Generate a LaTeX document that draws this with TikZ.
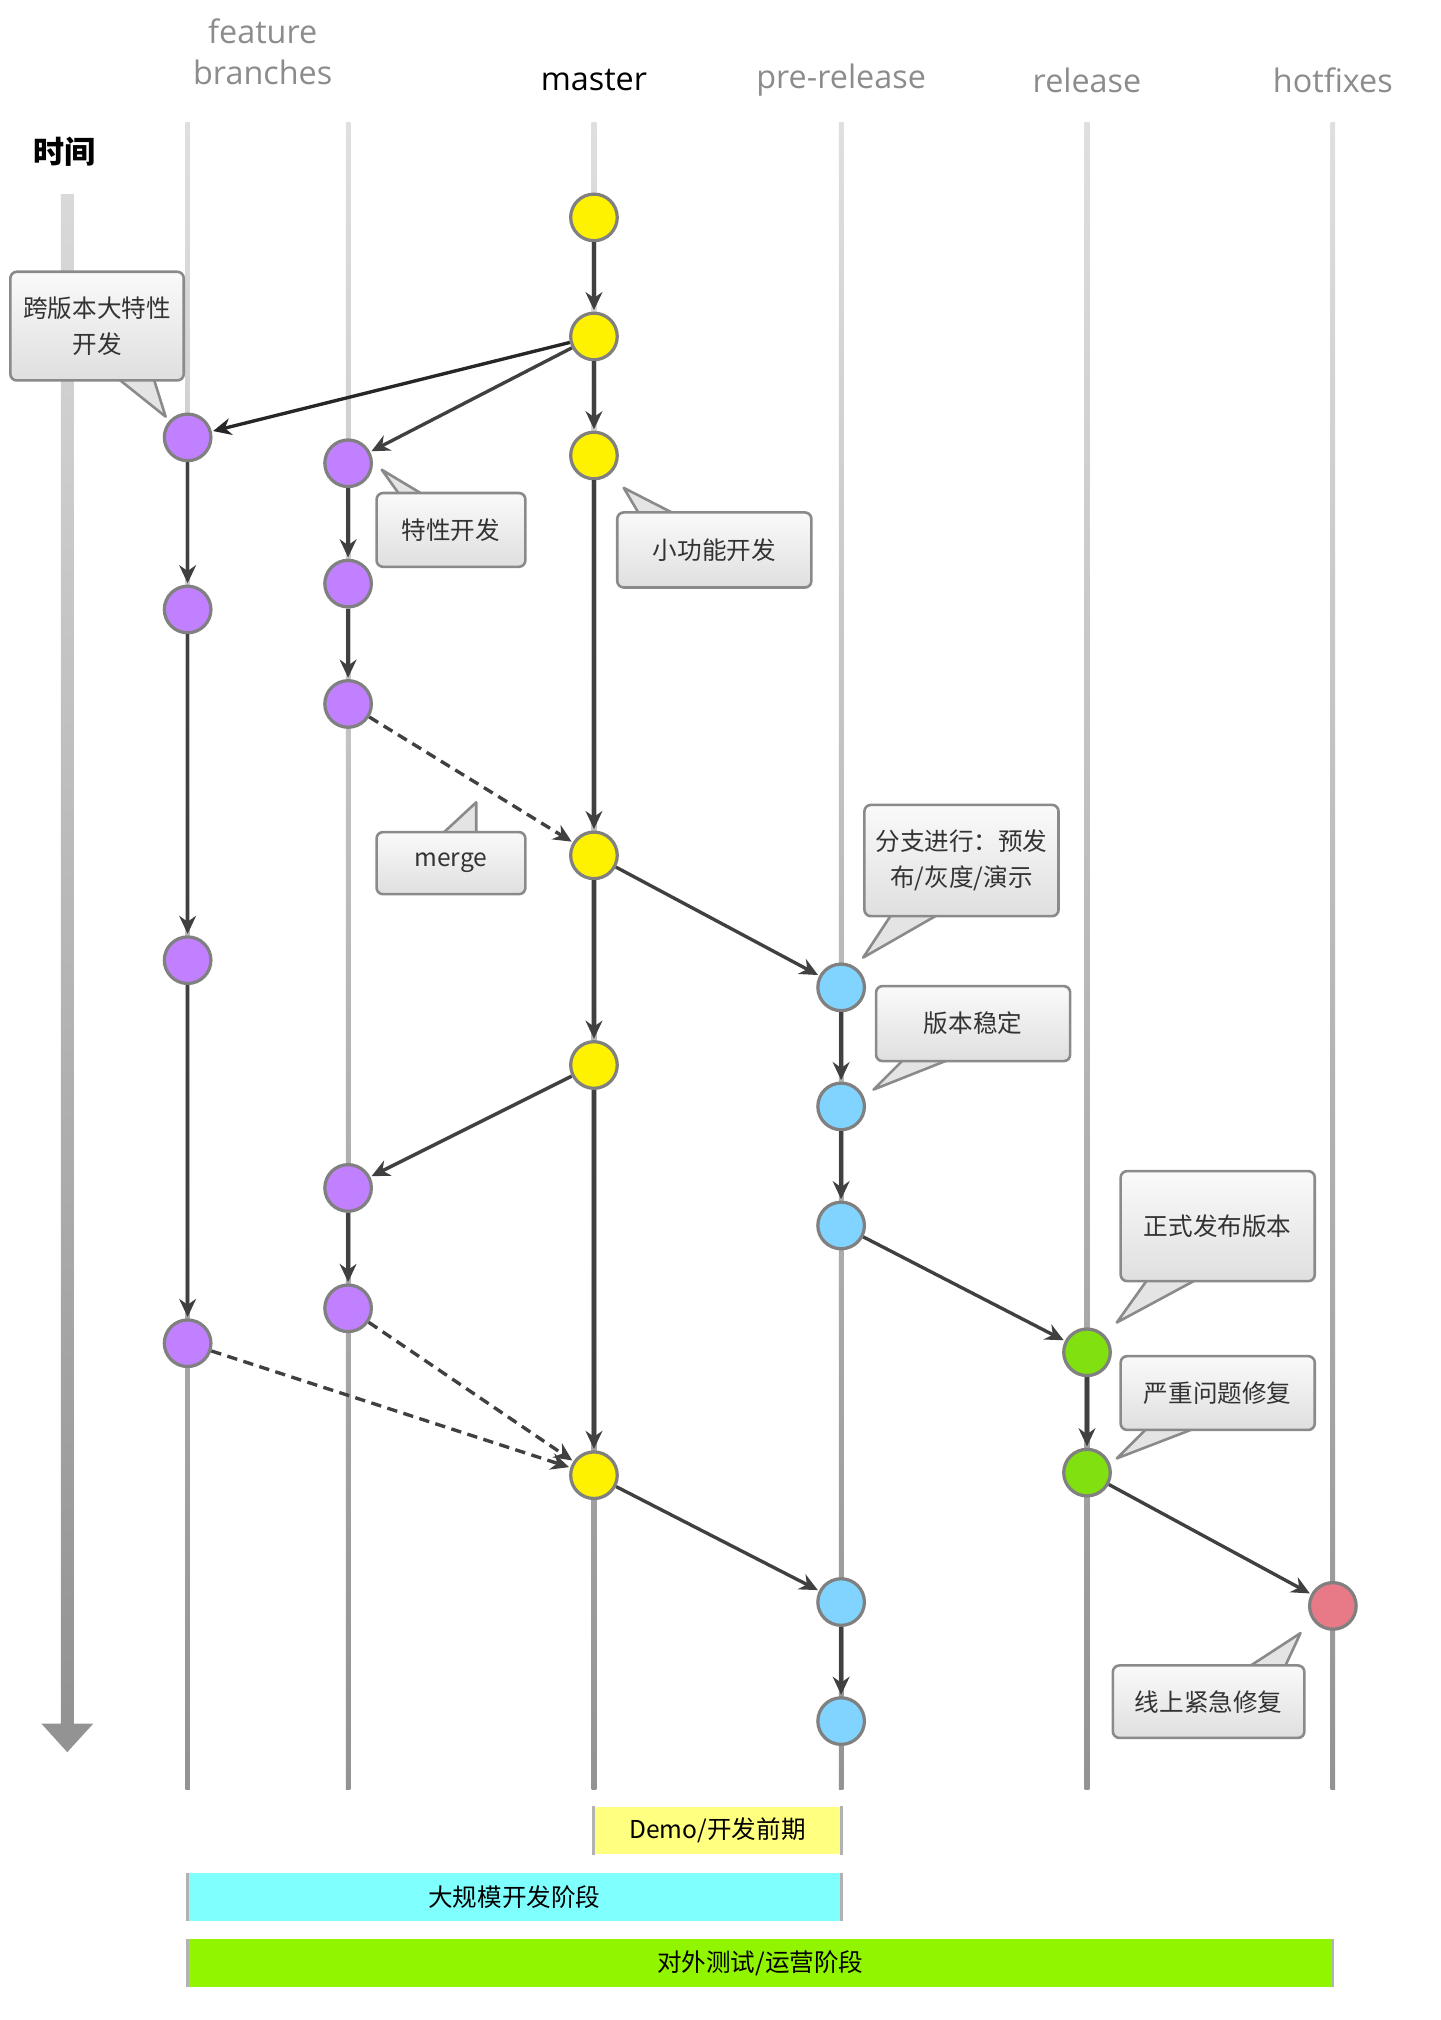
\documentclass[tikz,border=0pt]{standalone}
\usepackage{fontspec}
\setmainfont{Noto Sans CJK SC}
\newfontfamily\hdr{Open Sans}
\usetikzlibrary{arrows.meta}
\definecolor{cfill}{HTML}{E4E4E4}
\definecolor{cborder}{HTML}{8A8A8A}
\definecolor{cpurple}{HTML}{C080FF}
\definecolor{cblue}{HTML}{80D4FF}
\definecolor{cgreen}{HTML}{80E010}
\definecolor{cred}{HTML}{E87A88}
\tikzset{
 c/.style={circle,draw=gray!75!black!80,line width=2.5pt,minimum size=36pt,inner sep=0},
 ar/.style={line width=2.6pt,draw=black!75,-{Stealth[length=14pt,width=13pt]},shorten >=1pt},
 da/.style={ar,dashed,dash pattern=on 8pt off 5pt},
 co/.style={draw=cborder,top color=gray!4,bottom color=gray!25,line width=2pt,rounded corners=5pt,font=\fontsize{19}{28}\selectfont,text=black!80,align=center,inner sep=0},
 tri/.style={draw=cborder,fill=cfill,line width=2pt,line join=round},
 hd/.style={font=\hdr\fontsize{25}{36}\selectfont,text=gray!90},
 bar/.style={minimum height=37pt,inner sep=0,font=\fontsize{19}{24}\selectfont},
}
\begin{document}
\begin{tikzpicture}[x=1pt,y=-1pt]
\useasboundingbox (0,0) rectangle (1113,1561);
% lanes
\foreach \x in {145,269,459,650,840,1030}
 \shade[top color=gray!25,bottom color=gray!85] (\x-1.8,95) rectangle (\x+1.8,1383);
% time arrow
\shade[top color=gray!30,bottom color=gray!85] (47,150) rectangle (57,1332);
\fill[gray!85] (32,1332) -- (72,1332) -- (52,1354) -- cycle;
\node[font=\fontsize{24}{30}\selectfont\bfseries] (time) at (50,117) {时间};
% headers
\node[hd,align=center] (hf) at (203,40) {feature\\[-4pt]branches};
\node[hd,text=black] (hm) at (459,62) {master};
\node[hd] (hp) at (650,62) {pre-release};
\node[hd] (hr) at (840,62) {release};
\node[hd] (hh) at (1030,62) {hotfixes};
% commits
\node[c,fill=yellow] (m1) at (459,168) {};
\node[c,fill=yellow] (m2) at (459,260) {};
\node[c,fill=yellow] (m3) at (459,352) {};
\node[c,fill=yellow] (m4) at (459,661) {};
\node[c,fill=yellow] (m5) at (459,823) {};
\node[c,fill=yellow] (m6) at (459,1140) {};
\node[c,fill=cpurple] (a1) at (145,338) {};
\node[c,fill=cpurple] (a2) at (145,471) {};
\node[c,fill=cpurple] (a3) at (145,742) {};
\node[c,fill=cpurple] (a4) at (145,1038) {};
\node[c,fill=cpurple] (b1) at (269,358) {};
\node[c,fill=cpurple] (b2) at (269,451) {};
\node[c,fill=cpurple] (b3) at (269,544) {};
\node[c,fill=cpurple] (b4) at (269,918) {};
\node[c,fill=cpurple] (b5) at (269,1011) {};
\node[c,fill=cblue] (p1) at (650,763) {};
\node[c,fill=cblue] (p2) at (650,855) {};
\node[c,fill=cblue] (p3) at (650,947) {};
\node[c,fill=cblue] (p4) at (650,1238) {};
\node[c,fill=cblue] (p5) at (650,1330) {};
\node[c,fill=cgreen] (r1) at (840,1045) {};
\node[c,fill=cgreen] (r2) at (840,1138) {};
\node[c,fill=cred] (h1) at (1030,1241) {};
% edges
\foreach \u/\v in {m1/m2,m2/m3,m3/m4,m4/m5,m5/m6,a1/a2,a2/a3,a3/a4,b1/b2,b2/b3,b4/b5,p1/p2,p2/p3,p4/p5,r1/r2}
 \draw[ar] (\u) -- (\v);
\draw[ar,draw=black!85] (m2) -- (a1);
\draw[ar] (m2) -- (b1);
\draw[ar] (m4) -- (p1);
\draw[ar] (m5) -- (b4);
\draw[ar] (p3) -- (r1);
\draw[ar] (m6) -- (p4);
\draw[ar] (r2) -- (h1);
\draw[da] (b3) -- (m4);
\draw[da] (b5) -- (m6);
\draw[da] (a4) -- (m6);
% callouts
\draw[tri] (88,290) -- (128,322) -- (118,290) -- cycle;
\node[co,minimum width=134pt,minimum height=84pt] (k1) at (75,252) {跨版本大特性\\开发};
\draw[tri] (310,384) -- (295,363) -- (330,384) -- cycle;
\node[co,minimum width=115pt,minimum height=57pt] (k2) at (348.5,409.5) {特性开发};
\draw[tri] (495,399) -- (482,377) -- (525,399) -- cycle;
\node[co,minimum width=150pt,minimum height=58pt] (k3) at (552,425) {小功能开发};
\draw[tri] (340,646) -- (368,620) -- (368,646) -- cycle;
\node[co,minimum width=115pt,minimum height=48pt] (k4) at (348.5,667) {merge};
\draw[tri] (690,705) -- (667,740) -- (728,705) -- cycle;
\node[co,minimum width=150pt,minimum height=86pt] (k5) at (743,665) {分支进行：预发\\布/灰度/演示};
\draw[tri] (700,817) -- (675,842) -- (738,817) -- cycle;
\node[co,minimum width=150pt,minimum height=58pt] (k6) at (752,791) {版本稳定};
\draw[tri] (888,987) -- (863,1022) -- (928,987) -- cycle;
\node[co,minimum width=150pt,minimum height=85pt] (k7) at (941,947.5) {正式发布版本};
\draw[tri] (888,1102) -- (863,1127) -- (928,1102) -- cycle;
\node[co,minimum width=150pt,minimum height=57pt] (k8) at (941,1076.5) {严重问题修复};
\draw[tri] (962,1290) -- (1005,1262) -- (992,1290) -- cycle;
\node[co,minimum width=148pt,minimum height=56pt] (k9) at (934,1315) {线上紧急修复};
% phase bars
\node[bar,fill={rgb,255:red,255;green,255;blue,128},minimum width=191pt] (s1) at (554.5,1414.5) {Demo/开发前期};
\node[bar,fill={rgb,255:red,128;green,255;blue,255},minimum width=505pt] (s2) at (397.5,1466) {大规模开发阶段};
\node[bar,fill={rgb,255:red,145;green,245;blue,0},minimum width=885pt] (s3) at (587.5,1517) {对外测试/运营阶段};
\foreach \s in {s1,s2,s3}{
 \draw[gray!60,line width=2pt] (\s.north west) -- (\s.south west);
 \draw[gray!60,line width=2pt] (\s.north east) -- (\s.south east);}
\end{tikzpicture}
\end{document}
